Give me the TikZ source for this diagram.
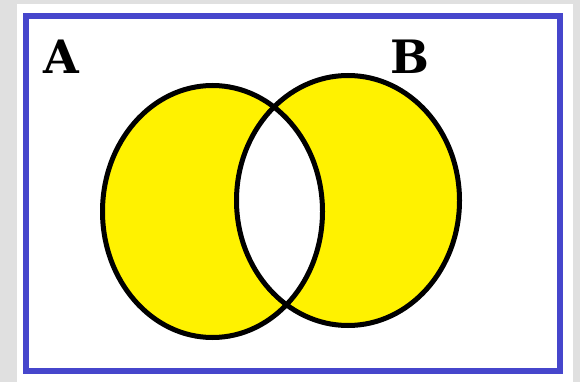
\documentclass[tikz,border=0pt]{standalone}
\usepackage{fontspec}
\newfontfamily\labfont{DejaVu Serif}
\definecolor{bggray}{HTML}{E0E0E0}
\definecolor{frameblue}{HTML}{4646CC}
\definecolor{vyellow}{HTML}{FFF200}
\tikzset{
  setlabel/.style={inner sep=0pt, font=\labfont\bfseries\fontsize{46}{46}\selectfont},
  setline/.style={draw=black, line width=5pt},
}
\begin{document}
\begin{tikzpicture}[x=1pt,y=-1pt]
\useasboundingbox (0,0) rectangle (580,382);
\fill[bggray] (0,0) rectangle (580,382);
\fill[white] (17,4) rectangle (573,382);
\draw[frameblue, line width=6pt] (26,16) rectangle (560,371);
\coordinate (ca) at (212.5,211.5);
\coordinate (cb) at (348,200.5);
\fill[vyellow] (ca) ellipse [x radius=110pt, y radius=126pt];
\fill[vyellow] (cb) ellipse [x radius=111.5pt, y radius=125pt];
\begin{scope}
  \clip (ca) ellipse [x radius=110pt, y radius=126pt];
  \fill[white] (cb) ellipse [x radius=111.5pt, y radius=125pt];
\end{scope}
\draw[setline] (ca) ellipse [x radius=110pt, y radius=126pt];
\draw[setline] (cb) ellipse [x radius=111.5pt, y radius=125pt];
\node[setlabel] (A) at (61,57) {A};
\node[setlabel] (B) at (410,57) {B};
\end{tikzpicture}
\end{document}
